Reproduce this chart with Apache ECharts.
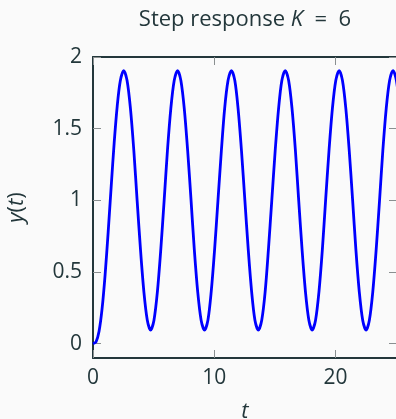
<!DOCTYPE html>
<html>
<head>
<meta charset="utf-8">
<script src="https://cdn.jsdelivr.net/npm/echarts@6/dist/echarts.min.js"></script>
<style>
  html, body { margin: 0; padding: 0; background: #fafafa; }
  #main { width: 396px; height: 419px; }
</style>
</head>
<body>
<div id="main"></div>
<script>
// values (t, y) - step response, K = 6
var tValues = [
  0, 0.25, 0.5, 0.75, 1.0, 1.25, 1.5, 1.75, 2.0, 2.25,
  2.53, 2.81, 3.09, 3.37, 3.64, 3.92, 4.20, 4.48, 4.75, 5.03, 5.31, 5.59, 5.87, 6.14, 6.42, 6.70,
  6.98, 7.25, 7.53, 7.81, 8.09, 8.36, 8.64, 8.92, 9.20, 9.48, 9.75, 10.03, 10.31, 10.59, 10.86, 11.14,
  11.42, 11.70, 11.97, 12.25, 12.53, 12.81, 13.09, 13.36, 13.64, 13.92, 14.20, 14.47, 14.75, 15.03, 15.31, 15.58,
  15.86, 16.14, 16.42, 16.70, 16.97, 17.25, 17.53, 17.81, 18.08, 18.36, 18.64, 18.92, 19.19, 19.47, 19.75, 20.03,
  20.31, 20.58, 20.86, 21.14, 21.42, 21.69, 21.97, 22.25, 22.53, 22.80, 23.08, 23.36, 23.64, 23.91, 24.19, 24.47,
  24.75, 25.03, 25.31
];
var yValues = [
  0, 0.013, 0.087, 0.244, 0.482, 0.777, 1.096, 1.404, 1.659, 1.833,
  1.905, 1.836, 1.640, 1.346, 1.000, 0.654, 0.360, 0.164, 0.095, 0.164, 0.360, 0.654, 1.000, 1.346, 1.640, 1.836,
  1.905, 1.836, 1.640, 1.346, 1.000, 0.654, 0.360, 0.164, 0.095, 0.164, 0.360, 0.654, 1.000, 1.346, 1.640, 1.836,
  1.905, 1.836, 1.640, 1.346, 1.000, 0.654, 0.360, 0.164, 0.095, 0.164, 0.360, 0.654, 1.000, 1.346, 1.640, 1.836,
  1.905, 1.836, 1.640, 1.346, 1.000, 0.654, 0.360, 0.164, 0.095, 0.164, 0.360, 0.654, 1.000, 1.346, 1.640, 1.836,
  1.905, 1.836, 1.640, 1.346, 1.000, 0.654, 0.360, 0.164, 0.095, 0.164, 0.360, 0.654, 1.000, 1.346, 1.640, 1.836,
  1.905, 1.836, 1.640
];
var xTicks = [0, 10, 20];
var yTicks = [0, 0.5, 1, 1.5, 2];

var textColor = '#23373b';
var tickColor = '#8a8f90';
var fontName = '"Open Sans", sans-serif';

var points = [];
for (var i = 0; i < tValues.length; i++) {
  points.push([tValues[i], yValues[i]]);
}

function xAxisOf(pos, withLabels) {
  return {
    type: 'value',
    position: pos,
    min: 0,
    max: 25.08,
    axisLine: { show: true, onZero: false, lineStyle: { color: textColor, width: 2 } },
    axisTick: { show: true, inside: true, length: 8, customValues: xTicks, lineStyle: { color: tickColor, width: 1 } },
    axisLabel: {
      show: withLabels, customValues: xTicks, margin: 10,
      color: textColor, fontSize: 21, fontFamily: fontName
    },
    splitLine: { show: false }
  };
}
function yAxisOf(pos, withLabels) {
  return {
    type: 'value',
    position: pos,
    min: -0.1,
    max: 2,
    axisLine: { show: true, onZero: false, lineStyle: { color: textColor, width: 2 } },
    axisTick: { show: true, inside: true, length: 8, customValues: yTicks, lineStyle: { color: tickColor, width: 1 } },
    axisLabel: {
      show: withLabels, customValues: yTicks, margin: 11,
      color: textColor, fontSize: 21, fontFamily: fontName
    },
    splitLine: { show: false }
  };
}

var chart = echarts.init(document.getElementById('main'));

var bottomX = xAxisOf('bottom', true);
bottomX.name = 't';
bottomX.nameLocation = 'middle';
bottomX.nameGap = 43;
bottomX.nameTextStyle = { color: textColor, fontSize: 22, fontStyle: 'italic', fontFamily: fontName };

var leftY = yAxisOf('left', true);
leftY.name = '{i|y}({i|t})';
leftY.nameLocation = 'middle';
leftY.nameGap = 65;
leftY.nameTextStyle = {
  color: textColor, fontSize: 22, fontFamily: fontName,
  rich: { i: { fontStyle: 'italic', fontSize: 22, color: textColor, fontFamily: fontName } }
};

chart.setOption({
  backgroundColor: '#fafafa',
  animation: false,
  title: {
    text: '{n|Step response }{i|K}{n|  =  6}',
    left: 240,
    top: 4,
    textAlign: 'center',
    textStyle: {
      rich: {
        n: { color: textColor, fontSize: 22, fontWeight: 'normal', fontFamily: fontName },
        i: { color: textColor, fontSize: 22, fontWeight: 'normal', fontStyle: 'italic', fontFamily: fontName }
      }
    }
  },
  grid: { left: 93, right: -1, top: 57, bottom: 61, outerBoundsMode: 'none' },
  xAxis: [bottomX, xAxisOf('top', false)],
  yAxis: [leftY, yAxisOf('right', false)],
  series: [{
    type: 'line',
    data: points,
    smooth: 0.3,
    showSymbol: false,
    clip: true,
    lineStyle: { color: '#0000ff', width: 2.8 }
  }]
});
</script>
</body>
</html>
